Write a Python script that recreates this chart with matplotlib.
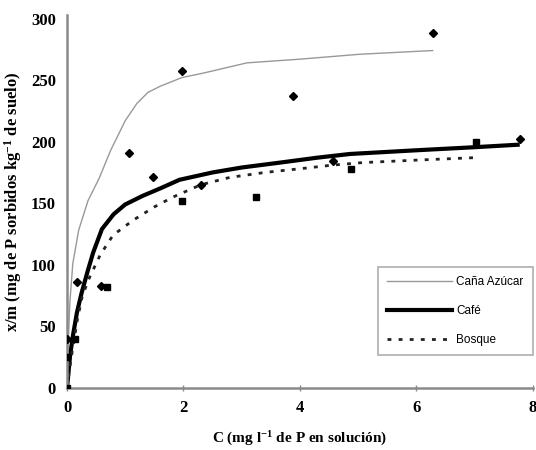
# libraries ----------------------
import matplotlib
matplotlib.use('Agg')
import matplotlib.pyplot as plt

plt.rcParams['font.family'] = 'Liberation Serif'
plt.rcParams['mathtext.default'] = 'regular'

# data ---------------------------
# fitted curves
cana_x = [0, 0.02, 0.05, 0.1, 0.2, 0.36, 0.55, 0.75, 1.0, 1.2, 1.39, 1.6, 1.97, 2.37, 3.09, 4.0, 5.03, 6.28]
cana_y = [0, 35, 70, 101, 128, 152, 170, 193, 217, 231, 240, 245, 252, 256, 264, 267, 271, 274]

cafe_x = [0, 0.05, 0.1, 0.17, 0.25, 0.35, 0.45, 0.6, 0.8, 1.0, 1.3, 1.6, 1.93, 2.5, 3.0, 3.66, 4.3, 4.86, 6.0, 7.0, 7.74]
cafe_y = [0, 25, 42, 61, 77, 94, 110, 129, 141, 149, 156, 162, 169, 175, 179, 183, 187, 190, 193, 195.5, 197.5]

bosque_x = [0, 0.05, 0.1, 0.18, 0.26, 0.37, 0.48, 0.57, 0.79, 1.13, 1.5, 1.82, 2.3, 2.8, 3.4, 4.0, 4.57, 5.08, 6.0, 7.0]
bosque_y = [0, 17, 33, 56, 74, 88, 99, 108, 124, 136, 147, 155, 165, 171, 175, 178, 181, 183, 185, 187]

# measured points
cana_px = [0.0, 0.17, 1.07, 1.47, 1.98, 3.88, 6.28]
cana_py = [40, 86, 191, 171, 257, 237, 288]

cafe_px = [0.58, 2.31, 4.57, 7.78]
cafe_py = [83, 164.5, 184, 202]

bosque_px = [0.0, 0.0, 0.14, 0.69, 1.98, 3.24, 4.88, 7.03]
bosque_py = [0, 25, 40, 82, 151.5, 155, 177.5, 200]

# plot ---------------------------
fig = plt.figure(figsize=(5.36, 4.5), dpi=100)
ax = fig.add_axes([0.125, 0.138, 0.869, 0.829])

ax.plot(cana_x, cana_y, color='#999999', lw=1.0, label='Caña Azúcar')
ax.plot(cafe_x, cafe_y, color='black', lw=3.0, label='Café', solid_joinstyle='round')
ax.plot(bosque_x, bosque_y, color='#222222', lw=2.0, dashes=(1.4, 2.6), label='Bosque')

ax.plot(cana_px, cana_py, 'D', color='black', ms=4.5, zorder=5)
ax.plot(cafe_px, cafe_py, 'D', color='black', ms=3.8, zorder=5)
ax.plot(bosque_px, bosque_py, 's', color='black', ms=5, zorder=5)

ax.set_xlim(0, 8)
ax.set_ylim(0, 303)
ax.set_xticks([0, 2, 4, 6, 8])
ax.set_yticks([0, 50, 100, 150, 200, 250, 300])

for s in ['top', 'right']:
    ax.spines[s].set_visible(False)
for s in ['left', 'bottom']:
    ax.spines[s].set_color('#8a8a8a')
    ax.spines[s].set_linewidth(1.8)

ax.tick_params(axis='x', direction='inout', length=5, width=1, color='#8a8a8a',
               labelsize=12, pad=6)
ax.tick_params(axis='y', length=0, labelsize=12, pad=8)
for lab in ax.get_xticklabels() + ax.get_yticklabels():
    lab.set_fontweight('bold')

ax.set_xlabel('C (mg l$^{-1}$ de P en solución)', fontsize=11, fontweight='bold', labelpad=10)
ax.set_ylabel('x/m (mg de P sorbidos kg$^{-1}$ de suelo)', fontsize=12, fontweight='bold', labelpad=5)

leg = ax.legend(loc='upper left', bbox_to_anchor=(0.655, 0.34), frameon=True, fancybox=False,
                prop={'family': 'Liberation Sans', 'size': 8.5}, handlelength=5.5,
                labelspacing=1.45, borderpad=0.75, handletextpad=0.4)
leg.get_frame().set_edgecolor('#999999')
leg.get_frame().set_linewidth(1.2)

fig.savefig('out.png', dpi=100)
